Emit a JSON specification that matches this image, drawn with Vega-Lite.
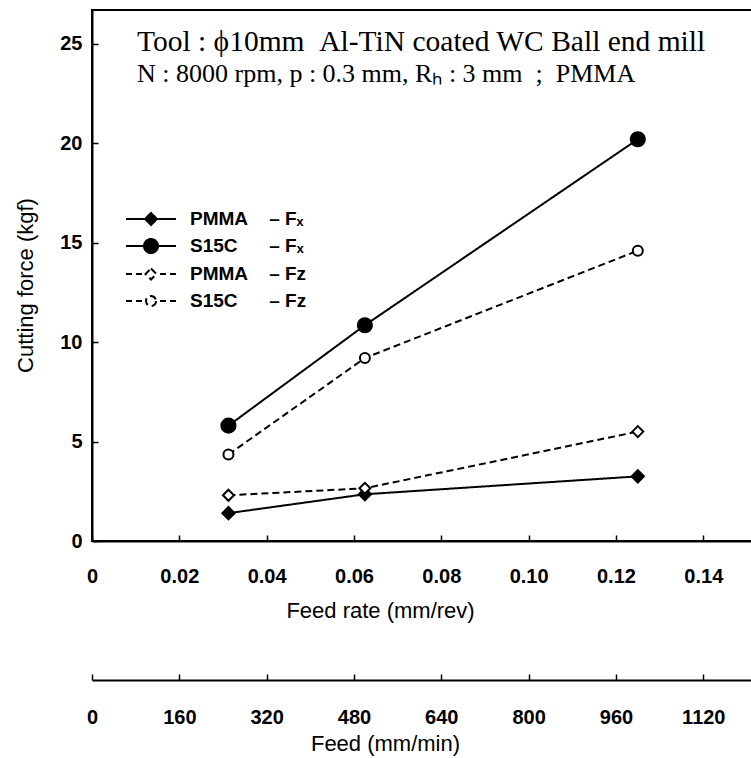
{
  "$schema": "https://vega.github.io/schema/vega-lite/v6.json",
  "width": 665,
  "height": 531,
  "autosize": "none",
  "padding": {"left": 92, "top": 10, "right": 0, "bottom": 217},
  "background": "white",
  "config": {
    "view": {"stroke": "black", "strokeWidth": 2},
    "font": "Liberation Sans",
    "axis": {
      "grid": false,
      "domainColor": "black",
      "domainWidth": 2,
      "tickColor": "black",
      "tickWidth": 1.5,
      "labelColor": "black",
      "titleColor": "black",
      "labelFont": "Liberation Sans",
      "titleFont": "Liberation Sans",
      "labelFontSize": 20,
      "labelFontWeight": "bold",
      "titleFontSize": 22,
      "titleFontWeight": "normal",
      "labelFlush": false,
      "labelOverlap": false
    }
  },
  "title": {
    "text": "Tool : ϕ10mm\u00a0\u00a0Al-TiN coated WC Ball end mill",
    "subtitle": "N : 8000 rpm, p : 0.3 mm, Rₕ : 3 mm\u00a0\u00a0;\u00a0\u00a0PMMA",
    "font": "Liberation Serif",
    "fontSize": 29.5,
    "fontWeight": "normal",
    "color": "black",
    "subtitleFont": "Liberation Serif",
    "subtitleFontSize": 26,
    "subtitleFontWeight": "normal",
    "subtitleColor": "black",
    "subtitlePadding": 4,
    "anchor": "start",
    "frame": "group",
    "orient": "top",
    "baseline": "top",
    "offset": 0,
    "dx": 45,
    "dy": 78
  },
  "datasets": {
    "forces": [
      {"series": "PMMA-Fx", "rate": 0.03125, "feed": 250, "force": 1.4},
      {"series": "PMMA-Fx", "rate": 0.0625, "feed": 500, "force": 2.35},
      {"series": "PMMA-Fx", "rate": 0.125, "feed": 1000, "force": 3.25},
      {"series": "S15C-Fx", "rate": 0.03125, "feed": 250, "force": 5.8},
      {"series": "S15C-Fx", "rate": 0.0625, "feed": 500, "force": 10.85},
      {"series": "S15C-Fx", "rate": 0.125, "feed": 1000, "force": 20.2},
      {"series": "PMMA-Fz", "rate": 0.03125, "feed": 250, "force": 2.3},
      {"series": "PMMA-Fz", "rate": 0.0625, "feed": 500, "force": 2.65},
      {"series": "PMMA-Fz", "rate": 0.125, "feed": 1000, "force": 5.5},
      {"series": "S15C-Fz", "rate": 0.03125, "feed": 250, "force": 4.35},
      {"series": "S15C-Fz", "rate": 0.0625, "feed": 500, "force": 9.2},
      {"series": "S15C-Fz", "rate": 0.125, "feed": 1000, "force": 14.6}
    ]
  },
  "data": {"name": "forces"},
  "layer": [
    {
      "encoding": {
        "x": {"field": "rate", "type": "quantitative"},
        "y": {"field": "force", "type": "quantitative"}
      },
      "layer": [
        {
          "mark": {"type": "line", "strokeWidth": 2, "color": "black"},
          "encoding": {
            "x": {
              "field": "rate", "type": "quantitative",
              "scale": {"domain": [0, 0.1523], "nice": false, "zero": false},
              "axis": {
                "values": [0, 0.02, 0.04, 0.06, 0.08, 0.1, 0.12, 0.14],
                "labelExpr": "datum.value == 0 ? '0' : format(datum.value, '.2f')",
                "title": "Feed rate (mm/rev)",
                "titleX": 288,
                "tickSize": -6,
                "labelPadding": 31,
                "titlePadding": 14
              }
            },
            "y": {
              "field": "force", "type": "quantitative",
              "scale": {"domain": [0, 26.7], "nice": false},
              "axis": {
                "values": [0, 5, 10, 15, 20, 25],
                "title": "Cutting force (kgf)",
                "titleY": 275,
                "tickSize": -6,
                "labelPadding": 16,
                "titlePadding": 22
              }
            },
            "strokeDash": {
              "field": "series", "type": "nominal",
              "scale": {"domain": ["PMMA-Fx", "S15C-Fx", "PMMA-Fz", "S15C-Fz"], "range": [[1, 0], [1, 0], [7, 4], [7, 4]]},
              "legend": {
                "title": null,
                "orient": "none",
                "legendX": 48,
                "legendY": 198,
                "padding": 0,
                "symbolSize": 400,
                "symbolStrokeWidth": 2,
                "symbolStrokeColor": "black",
                "symbolOpacity": 1,
                "labelFont": "Liberation Sans",
                "labelFontSize": 19,
                "labelFontWeight": "bold",
                "labelColor": "black",
                "labelOffset": 28,
                "rowPadding": 6,
                "labelExpr": "datum.value == 'PMMA-Fx' ? 'PMMA\u00a0\u00a0\u00a0\u00a0– Fₓ' : datum.value == 'S15C-Fx' ? 'S15C\u00a0\u00a0\u00a0\u00a0\u00a0\u00a0– Fₓ' : datum.value == 'PMMA-Fz' ? 'PMMA\u00a0\u00a0\u00a0\u00a0– Fᴢ' : 'S15C\u00a0\u00a0\u00a0\u00a0\u00a0\u00a0– Fᴢ'",
                "encode": {
                  "symbols": {
                    "update": {
                      "shape": {"signal": "datum.value == 'PMMA-Fx' ? 'M-2.5,0H2.5M0,-0.6L0.6,0L0,0.6L-0.6,0Z' : datum.value == 'S15C-Fx' ? 'M-2.5,0H2.5M0.7,0A0.7,0.7,0,1,1,-0.7,0A0.7,0.7,0,1,1,0.7,0Z' : datum.value == 'PMMA-Fz' ? 'M-2.5,0H-1.9M-1.5,0H-0.9M0.9,0H1.5M1.9,0H2.5M0,-0.55L0.55,0L0,0.55L-0.55,0Z' : 'M-2.5,0H-1.9M-1.5,0H-0.9M0.9,0H1.5M1.9,0H2.5M0.5,0A0.5,0.5,0,1,1,-0.5,0A0.5,0.5,0,1,1,0.5,0Z'"},
                      "fill": {"signal": "datum.value == 'PMMA-Fx' || datum.value == 'S15C-Fx' ? 'black' : 'white'"},
                      "stroke": {"value": "black"},
                      "strokeWidth": {"value": 2},
                      "strokeDash": {"value": [1, 0]},
                      "size": {"value": 400},
                      "opacity": {"value": 1}
                    }
                  }
                }
              }
            }
          }
        },
        {
          "transform": [{"filter": "datum.series == 'PMMA-Fx'"}],
          "mark": {"type": "point", "shape": "diamond", "filled": true, "fill": "black", "stroke": "black", "strokeWidth": 2, "size": 150, "opacity": 1}
        },
        {
          "transform": [{"filter": "datum.series == 'S15C-Fx'"}],
          "mark": {"type": "point", "shape": "circle", "filled": true, "fill": "black", "stroke": "black", "strokeWidth": 2, "size": 200, "opacity": 1}
        },
        {
          "transform": [{"filter": "datum.series == 'PMMA-Fz'"}],
          "mark": {"type": "point", "shape": "diamond", "fill": "white", "stroke": "black", "strokeWidth": 2, "size": 120, "opacity": 1}
        },
        {
          "transform": [{"filter": "datum.series == 'S15C-Fz'"}],
          "mark": {"type": "point", "shape": "circle", "fill": "white", "stroke": "black", "strokeWidth": 2, "size": 100, "opacity": 1}
        }
      ]
    },
    {
      "mark": {"type": "point", "opacity": 0},
      "encoding": {
        "x": {
          "field": "feed", "type": "quantitative",
          "scale": {"domain": [0, 1218.4], "nice": false, "zero": false},
          "axis": {
            "orient": "bottom",
            "offset": 139,
            "values": [0, 160, 320, 480, 640, 800, 960, 1120],
            "format": "d",
            "title": "Feed (mm/min)",
            "titleX": 293,
            "tickSize": -6,
            "labelPadding": 33,
            "titlePadding": 6
          }
        },
        "y": {"field": "force", "type": "quantitative"}
      }
    }
  ],
  "resolve": {"scale": {"x": "independent"}}
}
